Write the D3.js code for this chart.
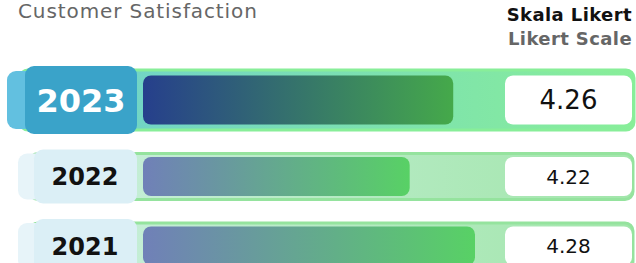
<!DOCTYPE html>
<html>
<head>
<meta charset="utf-8">
<script src="https://cdn.jsdelivr.net/npm/d3@7"></script>
<style>
  body { margin: 0; background: #fff; }
  svg { display: block; font-family: "DejaVu Sans", sans-serif; }
</style>
</head>
<body>
<div id="chart"></div>
<script>
// Customer satisfaction on a Likert scale, one row per year
var years = ["2023", "2022", "2021"];
var scores = [4.26, 4.22, 4.28];
var highlight = [true, false, false];

var svgWidth = 636;
var svgHeight = 263;

var svg = d3.select("#chart")
  .append("svg")
  .attr("width", svgWidth)
  .attr("height", svgHeight);

var defs = svg.append("defs");

function gradient(id, from, to) {
  var g = defs.append("linearGradient")
    .attr("id", id)
    .attr("x1", "0%").attr("x2", "100%")
    .attr("y1", "0%").attr("y2", "0%");
  g.append("stop").attr("offset", "0%").attr("stop-color", from);
  g.append("stop").attr("offset", "100%").attr("stop-color", to);
}
gradient("bandHi", "#6dcfcf", "#88ee99");
gradient("bandLo", "#cbefde", "#a2e6ab");
gradient("barHi", "#263f8c", "#45a94a");
gradient("barLo", "#7080b8", "#58d165");

// bar length scale (x axis is not drawn)
var x = d3.scaleLinear()
  .domain([3.975, 4.28])
  .range([143, 475]);

// row geometry: highlighted row is taller
var rows = years.map(function(y, i) {
  return { year: y, score: scores[i], hi: highlight[i] };
});
var rowTop = 66;
rows.forEach(function(d) {
  d.h = d.hi ? 68 : 54;
  d.top = rowTop;
  d.cy = rowTop + d.h / 2;
  rowTop += d.h + 15.5;
});

// headers
svg.append("text")
  .attr("x", 18)
  .attr("y", 18)
  .attr("fill", "#666")
  .attr("font-size", 20)
  .attr("letter-spacing", 0.9)
  .text("Customer Satisfaction");

svg.append("text")
  .attr("x", 632)
  .attr("y", 21)
  .attr("text-anchor", "end")
  .attr("font-weight", "bold")
  .attr("font-size", 18)
  .attr("letter-spacing", 0.4)
  .attr("fill", "#111")
  .text("Skala Likert");

svg.append("text")
  .attr("x", 632)
  .attr("y", 45)
  .attr("text-anchor", "end")
  .attr("font-weight", "bold")
  .attr("font-size", 18)
  .attr("letter-spacing", 0.4)
  .attr("fill", "#666")
  .text("Likert Scale");

var row = svg.selectAll(".row")
  .data(rows)
  .enter()
  .append("g")
  .attr("class", "row");

// background band
row.append("rect")
  .attr("x", d => d.hi ? 20 : 30)
  .attr("y", d => d.cy - (d.hi ? 30 : 23))
  .attr("width", d => (d.hi ? 634 : 633) - (d.hi ? 20 : 30))
  .attr("height", d => d.hi ? 60 : 46)
  .attr("rx", 8)
  .attr("fill", d => d.hi ? "url(#bandHi)" : "url(#bandLo)")
  .attr("stroke", d => d.hi ? "#88ee99" : "#95e39e")
  .attr("stroke-width", 3);

// left cap
row.append("rect")
  .attr("x", d => d.hi ? 7 : 18)
  .attr("y", d => d.cy - (d.hi ? 29 : 23))
  .attr("width", 40)
  .attr("height", d => d.hi ? 58 : 46)
  .attr("rx", 9)
  .attr("fill", d => d.hi ? "#62c0e0" : "#e7f4f9");

// year box
row.append("rect")
  .attr("x", d => d.hi ? 25 : 34)
  .attr("y", d => d.top)
  .attr("width", d => 137 - (d.hi ? 25 : 34))
  .attr("height", d => d.h)
  .attr("rx", 9)
  .attr("fill", d => d.hi ? "#3aa3c9" : "#dbeff6");

row.append("text")
  .attr("x", d => d.hi ? 81 : 85)
  .attr("y", d => d.cy)
  .attr("dy", "0.36em")
  .attr("text-anchor", "middle")
  .attr("font-weight", "bold")
  .attr("font-size", d => d.hi ? 32 : 24)
  .attr("fill", d => d.hi ? "#fff" : "#111")
  .text(d => d.year);

// value bar
row.append("rect")
  .attr("x", x(x.domain()[0]))
  .attr("y", d => d.cy - (d.hi ? 24.5 : 19.5))
  .attr("width", d => x(d.score) - x(x.domain()[0]))
  .attr("height", d => d.hi ? 49 : 39)
  .attr("rx", 8)
  .attr("fill", d => d.hi ? "url(#barHi)" : "url(#barLo)");

// value box
row.append("rect")
  .attr("x", 505)
  .attr("y", d => d.cy - (d.hi ? 24.5 : 19.5))
  .attr("width", 127)
  .attr("height", d => d.hi ? 49 : 39)
  .attr("rx", 8)
  .attr("fill", "#fff");

row.append("text")
  .attr("x", 568.5)
  .attr("y", d => d.cy)
  .attr("dy", "0.36em")
  .attr("text-anchor", "middle")
  .attr("font-size", d => d.hi ? 26 : 20)
  .attr("fill", "#111")
  .text(d => d3.format(".2f")(d.score));
</script>
</body>
</html>
